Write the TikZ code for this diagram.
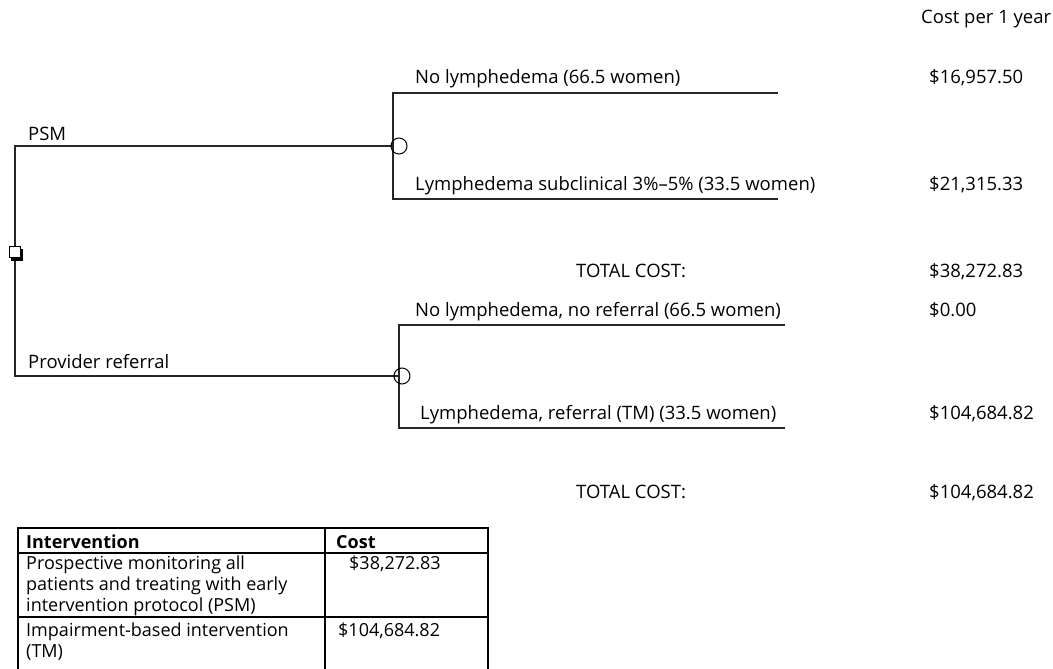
\documentclass[tikz,border=0pt]{standalone}
\usepackage{fontspec}
\setmainfont{Open Sans}
\tikzset{
  lbl/.style={anchor=base west, inner sep=0pt, font=\fontsize{18.5}{21}\selectfont},
  tlbl/.style={anchor=base west, inner sep=0pt, font=\fontsize{18}{21}\selectfont},
  hdr/.style={tlbl, font=\fontsize{18}{21}\selectfont\bfseries},
  branch/.style={line width=1.3pt, black!85},
  chance/.style={circle, draw, line width=1pt, minimum size=16pt, inner sep=0pt},
  decision/.style={rectangle, draw, line width=0.8pt, minimum size=11pt, inner sep=0pt, fill=white},
  tline/.style={line width=1.4pt}
}
\begin{document}
\begin{tikzpicture}[x=1pt,y=-1pt]
\useasboundingbox (0,0) rectangle (1053,669);
% nodes of the tree
\coordinate (j1) at (393,146);
\coordinate (j2) at (399,376);
\coordinate (e1) at (778,93);
\coordinate (e2) at (778,199);
\coordinate (e3) at (785,325);
\coordinate (e4) at (785,428);
\coordinate (d) at (15,253);
% connectors
\draw[branch] (d) |- (j1);
\draw[branch] (d) |- (j2);
\draw[branch] (j1) |- (e1);
\draw[branch] (j1) |- (e2);
\draw[branch] (j2) |- (e3);
\draw[branch] (j2) |- (e4);
\node[chance] (C1) at (399,146) {};
\node[chance] (C2) at (402,376) {};
\node[decision, fill=black] (Ds) at (17,255) {};
\node[decision] (D) at (15,252) {};
% labels
\node[lbl] (hcost) at (921,24) {Cost per 1 year};
\node[lbl] (l1) at (415,84) {No lymphedema (66.5 women)};
\node[lbl] (c1) at (929,84) {\$16,957.50};
\node[lbl] (psm) at (28,140) {PSM};
\node[lbl] (l2) at (415,190) {Lymphedema subclinical 3\%--5\% (33.5 women)};
\node[lbl] (c2) at (929,190) {\$21,315.33};
\node[lbl] (t1) at (576,277) {TOTAL COST:};
\node[lbl] (tc1) at (929,277) {\$38,272.83};
\node[lbl] (l3) at (415,316) {No lymphedema, no referral (66.5 women)};
\node[lbl] (c3) at (929,316) {\$0.00};
\node[lbl] (pr) at (28,368) {Provider referral};
\node[lbl] (l4) at (420,419) {Lymphedema, referral (TM) (33.5 women)};
\node[lbl] (c4) at (929,419) {\$104,684.82};
\node[lbl] (t2) at (576,498) {TOTAL COST:};
\node[lbl] (tc2) at (929,498) {\$104,684.82};
% table
\draw[tline] (18,669) -- (18,528) -- (488,528) -- (488,669);
\draw[tline] (325,528) -- (325,669);
\draw[tline] (18,553) -- (488,553);
\draw[tline] (18,617) -- (488,617);
\node[hdr] (th1) at (26,548) {Intervention};
\node[hdr] (th2) at (336,548) {Cost};
\node[tlbl] (r1a) at (26,569) {Prospective monitoring all};
\node[tlbl] (r1b) at (26,590) {patients and treating with early};
\node[tlbl] (r1c) at (26,611) {intervention protocol (PSM)};
\node[tlbl] (r1d) at (349,569) {\$38,272.83};
\node[tlbl] (r2a) at (26,636) {Impairment-based intervention};
\node[tlbl] (r2b) at (26,657) {(TM)};
\node[tlbl] (r2c) at (338,636) {\$104,684.82};
\end{tikzpicture}
\end{document}
